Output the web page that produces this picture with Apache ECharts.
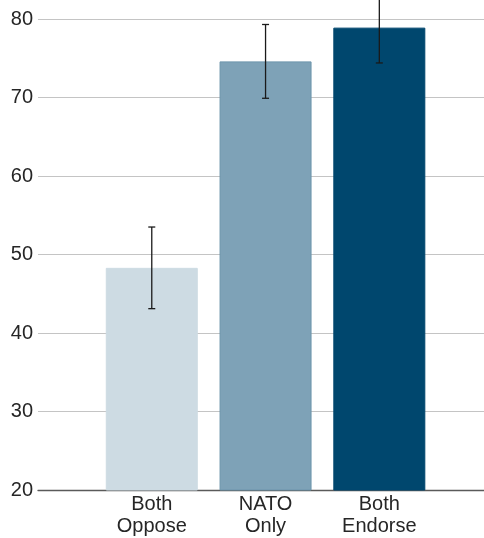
<!DOCTYPE html>
<html>
<head>
<meta charset="utf-8">
<script src="https://cdn.jsdelivr.net/npm/echarts@6/dist/echarts.min.js"></script>
<style>
  html, body { margin: 0; padding: 0; background: #ffffff; }
  #chart { width: 484px; height: 538px; }
</style>
</head>
<body>
<div id="chart"></div>
<script>
// Support for the measures by position (mean with confidence interval)
const categories = ['Both\nOppose', 'NATO\nOnly', 'Both\nEndorse'];
const means = [48.3, 74.6, 78.9];
const lower = [43.1, 69.9, 74.4];
const upper = [53.5, 79.3, 83.4];
const barColors = ['#cddbe3', '#7ea2b7', '#00476e'];
const barEdges = ['#cddbe3', '#6d95ac', '#00476e'];
const yTicks = [20, 30, 40, 50, 60, 70, 80];

const chart = echarts.init(document.getElementById('chart'), null, { renderer: 'canvas' });

const font = '"Liberation Sans", Arial, Helvetica, sans-serif';

const option = {
  animation: false,
  backgroundColor: '#ffffff',
  grid: { left: 38, right: 0, top: 0, bottom: 47.5, containLabel: false },
  xAxis: {
    type: 'value',
    min: -1,
    max: 2.92,
    interval: 1,
    splitLine: { show: false },
    axisTick: { show: false },
    axisLine: { show: true, lineStyle: { color: '#5a5a5a', width: 1.3 } },
    axisLabel: {
      show: true,
      showMaxLabel: false,
      showMinLabel: false,
      margin: 3,
      color: '#262626',
      fontFamily: font,
      fontSize: 20,
      lineHeight: 22.5,
      formatter: function (v) {
        const i = Math.round(v);
        return (Math.abs(v - i) < 1e-6 && i >= 0 && i < categories.length) ? categories[i] : '';
      }
    }
  },
  yAxis: {
    type: 'value',
    min: 20,
    max: 82.42,
    interval: 10,
    axisLine: { show: false },
    axisTick: { show: false },
    splitLine: { show: true, showMaxLine: false, showMinLine: false, lineStyle: { color: '#c4c4c4', width: 1.2 } },
    axisLabel: {
      margin: 5,
      color: '#262626',
      fontFamily: font,
      fontSize: 20,
      showMaxLabel: false,
      formatter: function (v) { return yTicks.indexOf(v) >= 0 ? String(v) : ''; }
    }
  },
  series: [
    {
      type: 'bar',
      barWidth: 92,
      z: 3,
      data: means.map(function (m, i) {
        return {
          value: [i, m],
          itemStyle: { color: barColors[i], borderColor: barEdges[i], borderWidth: 1 }
        };
      })
    },
    {
      type: 'custom',
      z: 5,
      clip: false,
      data: means.map(function (m, i) { return [i, lower[i], upper[i]]; }),
      renderItem: function (params, api) {
        const x = api.value(0);
        const lo = api.coord([x, api.value(1)]);
        const hi = api.coord([x, api.value(2)]);
        const cap = 3.5;
        const style = { stroke: '#1a1a1a', lineWidth: 1.3, fill: null };
        return {
          type: 'group',
          children: [
            { type: 'line', shape: { x1: lo[0], y1: lo[1], x2: hi[0], y2: hi[1] }, style: style },
            { type: 'line', shape: { x1: lo[0] - cap, y1: lo[1], x2: lo[0] + cap, y2: lo[1] }, style: style },
            { type: 'line', shape: { x1: hi[0] - cap, y1: hi[1], x2: hi[0] + cap, y2: hi[1] }, style: style }
          ]
        };
      }
    }
  ]
};

chart.setOption(option);
</script>
</body>
</html>
